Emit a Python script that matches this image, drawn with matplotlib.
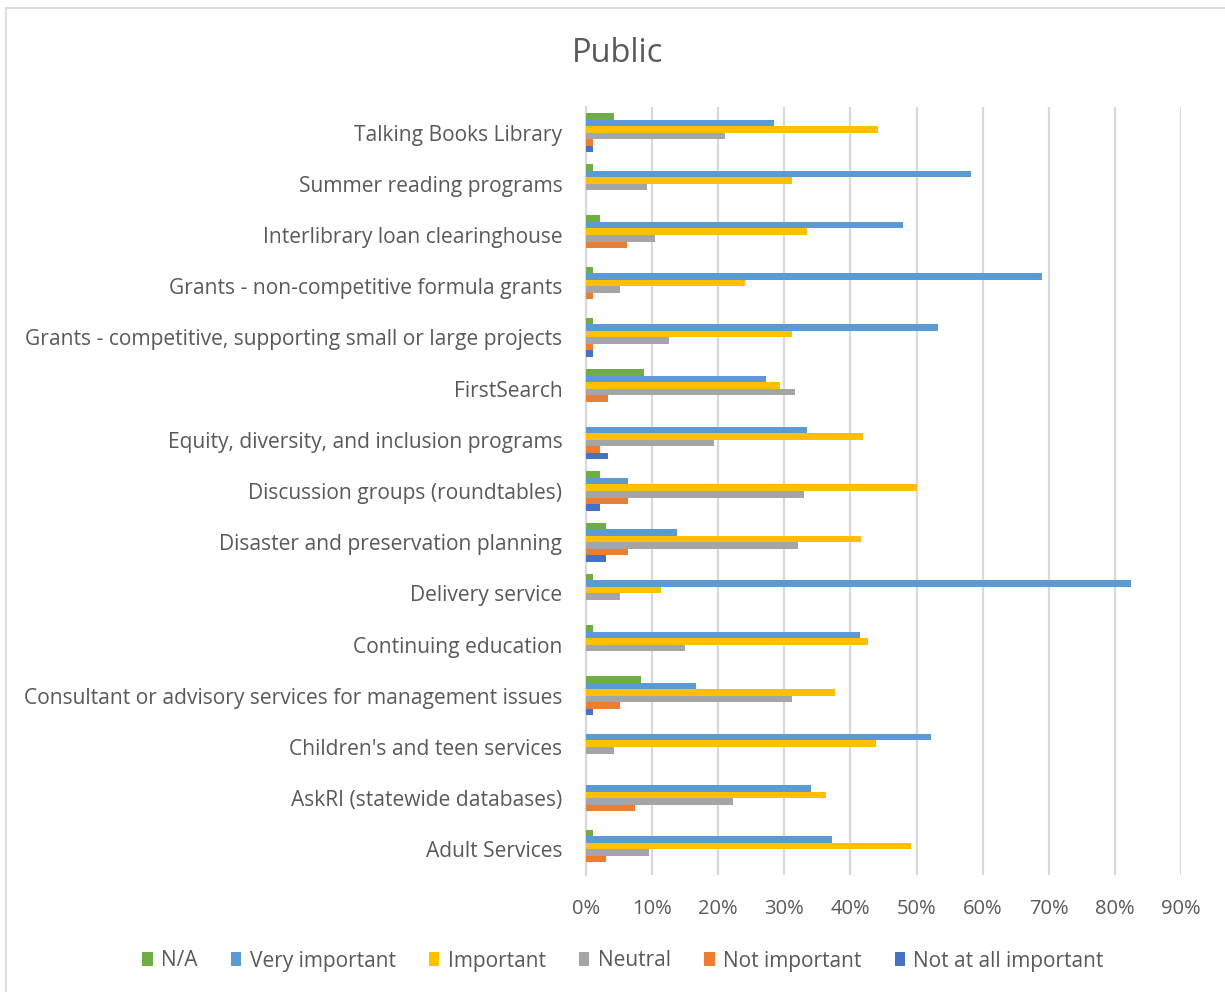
import matplotlib
matplotlib.use("Agg")
import matplotlib.pyplot as plt
import numpy as np
from matplotlib.patches import Patch

plt.rcParams['font.family'] = ['Open Sans', 'DejaVu Sans']

# Categories, listed bottom to top as on the axis
categories = [
    "Adult Services",
    "AskRI (statewide databases)",
    "Children's and teen services",
    "Consultant or advisory services for management issues",
    "Continuing education",
    "Delivery service",
    "Disaster and preservation planning",
    "Discussion groups (roundtables)",
    "Equity, diversity, and inclusion programs",
    "FirstSearch",
    "Grants - competitive, supporting small or large projects",
    "Grants - non-competitive formula grants",
    "Interlibrary loan clearinghouse",
    "Summer reading programs",
    "Talking Books Library",
]

series_names = ["N/A", "Very important", "Important", "Neutral",
                "Not important", "Not at all important"]
series_colors = ["#70AD47", "#5B9BD5", "#FFC000", "#A5A5A5", "#ED7D31", "#4472C4"]

# Share of respondents (fractions), same order as categories
na = [0.010, 0.0, 0.0, 0.083, 0.010, 0.010, 0.031, 0.021, 0.0, 0.087,
      0.010, 0.010, 0.021, 0.010, 0.043]
very_important = [0.372, 0.341, 0.522, 0.167, 0.415, 0.824, 0.138, 0.064, 0.334, 0.272,
                  0.532, 0.689, 0.479, 0.583, 0.285]
important = [0.491, 0.363, 0.438, 0.376, 0.427, 0.114, 0.416, 0.501, 0.419, 0.294,
             0.312, 0.240, 0.334, 0.312, 0.442]
neutral = [0.095, 0.223, 0.042, 0.312, 0.150, 0.052, 0.321, 0.330, 0.194, 0.316,
           0.126, 0.052, 0.105, 0.093, 0.211]
not_important = [0.031, 0.074, 0.0, 0.052, 0.0, 0.0, 0.064, 0.064, 0.021, 0.033,
                 0.010, 0.010, 0.062, 0.0, 0.010]
not_at_all = [0.0, 0.0, 0.0, 0.010, 0.0, 0.0, 0.031, 0.021, 0.033, 0.0,
              0.010, 0.0, 0.0, 0.0, 0.010]

series_values = [na, very_important, important, neutral, not_important, not_at_all]

TEXT = "#595959"
GRID = "#D9D9D9"

fig = plt.figure(figsize=(12.25, 9.92), dpi=100)
ax = fig.add_axes([586 / 1225, 1 - 875 / 992, 595 / 1225, 768 / 992])

y = np.arange(len(categories))
h = 0.127
for j, (vals, color) in enumerate(zip(series_values, series_colors)):
    offset = (2.5 - j) * h
    ax.barh(y + offset, vals, height=h, color=color, edgecolor="none", zorder=3)

ax.set_xlim(0, 0.9)
ax.set_ylim(-0.5, len(categories) - 0.5)
ax.set_xticks(np.arange(0, 0.91, 0.1))
ax.set_xticklabels([f"{int(round(t * 100))}%" for t in np.arange(0, 0.91, 0.1)])
ax.set_yticks(y)
ax.set_yticklabels(categories)

ax.grid(axis="x", color=GRID, linewidth=1.6, zorder=0)
ax.grid(axis="y", visible=False)
for s in ["top", "right", "bottom"]:
    ax.spines[s].set_visible(False)
ax.spines["left"].set_color(GRID)
ax.spines["left"].set_linewidth(1.6)

ax.tick_params(axis="y", length=0, pad=17, labelsize=15.1, labelcolor=TEXT)
ax.tick_params(axis="x", length=0, pad=17, labelsize=14.5, labelcolor=TEXT)

fig.text(618 / 1225, 1 - 53 / 992, "Public", ha="center", va="center",
         fontsize=23.5, color=TEXT)

handles = [Patch(facecolor=c, edgecolor="none") for c in series_colors]
leg = fig.legend(handles, series_names, loc="center", ncol=6,
                 bbox_to_anchor=(623 / 1225, 1 - 961 / 992), frameon=False,
                 fontsize=15, handlelength=0.5, handleheight=0.65,
                 handletextpad=0.4, columnspacing=1.6)
for t in leg.get_texts():
    t.set_color(TEXT)

# Chart frame
fig.add_artist(plt.Line2D([6 / 1225, 6 / 1225], [0, 1 - 8 / 992],
                          transform=fig.transFigure, color="#D9D9D9", linewidth=1.2))
fig.add_artist(plt.Line2D([6 / 1225, 1], [1 - 8 / 992, 1 - 8 / 992],
                          transform=fig.transFigure, color="#D9D9D9", linewidth=1.2))

fig.savefig("out.png", dpi=100, facecolor="white")
